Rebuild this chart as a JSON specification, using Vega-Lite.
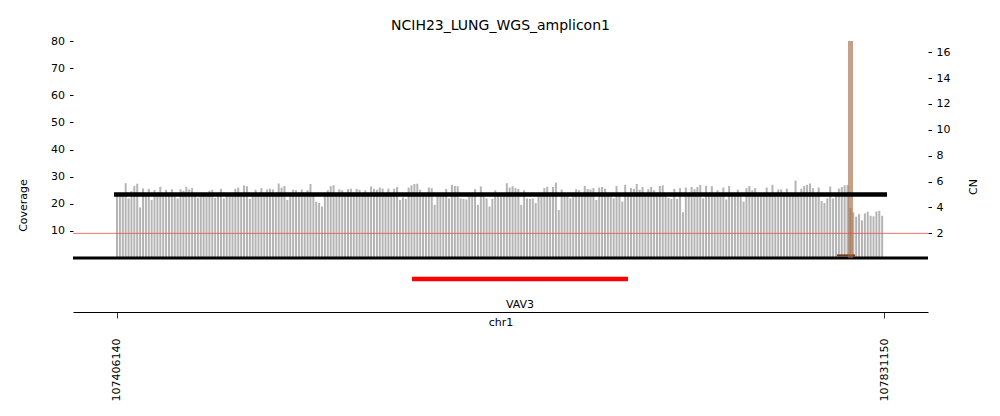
{
  "$schema": "https://vega.github.io/schema/vega-lite/v6.json",
  "width": 855,
  "height": 271,
  "autosize": "none",
  "padding": {"left": 73, "top": 41, "right": 72, "bottom": 104},
  "title": {"text": "NCIH23_LUNG_WGS_amplicon1", "font": "DejaVu Sans", "fontSize": 14, "fontWeight": "normal", "color": "black", "anchor": "middle", "frame": "group", "baseline": "alphabetic", "offset": -9},
  "config": {
    "view": {"stroke": null},
    "axis": {"grid": false, "labelFont": "DejaVu Sans", "labelFontSize": 11, "labelColor": "black", "titleFont": "DejaVu Sans", "titleFontSize": 11, "titleFontWeight": "normal", "titleColor": "black", "tickColor": "black", "domainColor": "black", "labelOverlap": false}
  },
  "datasets": {
    "cov": [
      {"pos":107406140,"cov":23.2},{"pos":107407740,"cov":23.0},{"pos":107409340,"cov":23.4},{"pos":107410940,"cov":27.6},{"pos":107412540,"cov":22.0},
      {"pos":107414140,"cov":24.7},{"pos":107415740,"cov":26.6},{"pos":107417340,"cov":27.4},{"pos":107418940,"cov":18.7},{"pos":107420540,"cov":25.7},
      {"pos":107422140,"cov":23.1},{"pos":107423740,"cov":25.5},{"pos":107425340,"cov":21.4},{"pos":107426940,"cov":25.1},{"pos":107428540,"cov":23.3},
      {"pos":107430140,"cov":26.3},{"pos":107431740,"cov":23.0},{"pos":107433340,"cov":25.2},{"pos":107434940,"cov":23.4},{"pos":107436540,"cov":25.4},
      {"pos":107438140,"cov":22.8},{"pos":107439740,"cov":22.0},{"pos":107441340,"cov":25.4},{"pos":107442940,"cov":24.8},{"pos":107444540,"cov":26.2},
      {"pos":107446140,"cov":25.3},{"pos":107447740,"cov":25.8},{"pos":107449340,"cov":23.1},{"pos":107450940,"cov":22.3},{"pos":107452540,"cov":23.2},
      {"pos":107454140,"cov":23.5},{"pos":107455740,"cov":23.6},{"pos":107457340,"cov":24.8},{"pos":107458940,"cov":25.2},{"pos":107460540,"cov":22.2},
      {"pos":107462140,"cov":23.0},{"pos":107463740,"cov":25.5},{"pos":107465340,"cov":22.0},{"pos":107466940,"cov":23.3},{"pos":107468540,"cov":22.8},
      {"pos":107470140,"cov":23.1},{"pos":107471740,"cov":25.5},{"pos":107473340,"cov":26.0},{"pos":107474940,"cov":23.2},{"pos":107476540,"cov":26.8},
      {"pos":107478140,"cov":26.5},{"pos":107479740,"cov":21.8},{"pos":107481340,"cov":23.4},{"pos":107482940,"cov":25.2},{"pos":107484540,"cov":23.0},
      {"pos":107486140,"cov":25.8},{"pos":107487740,"cov":23.2},{"pos":107489340,"cov":25.3},{"pos":107490940,"cov":25.6},{"pos":107492540,"cov":25.3},
      {"pos":107494140,"cov":23.1},{"pos":107495740,"cov":27.5},{"pos":107497340,"cov":26.0},{"pos":107498940,"cov":26.6},{"pos":107500540,"cov":21.4},
      {"pos":107502140,"cov":23.3},{"pos":107503740,"cov":25.2},{"pos":107505340,"cov":25.0},{"pos":107506940,"cov":23.1},{"pos":107508540,"cov":25.3},
      {"pos":107510140,"cov":23.4},{"pos":107511740,"cov":25.0},{"pos":107513340,"cov":27.3},{"pos":107514940,"cov":23.2},{"pos":107516540,"cov":20.8},
      {"pos":107518140,"cov":20.3},{"pos":107519740,"cov":19.0},{"pos":107521340,"cov":23.3},{"pos":107522940,"cov":25.0},{"pos":107524540,"cov":26.5},
      {"pos":107526140,"cov":26.8},{"pos":107527740,"cov":23.2},{"pos":107529340,"cov":25.3},{"pos":107530940,"cov":25.0},{"pos":107532540,"cov":23.4},
      {"pos":107534140,"cov":25.4},{"pos":107535740,"cov":25.6},{"pos":107537340,"cov":23.1},{"pos":107538940,"cov":25.5},{"pos":107540540,"cov":25.2},
      {"pos":107542140,"cov":23.3},{"pos":107543740,"cov":25.0},{"pos":107545340,"cov":23.2},{"pos":107546940,"cov":26.4},{"pos":107548540,"cov":25.5},
      {"pos":107550140,"cov":25.2},{"pos":107551740,"cov":26.0},{"pos":107553340,"cov":25.6},{"pos":107554940,"cov":23.3},{"pos":107556540,"cov":25.6},
      {"pos":107558140,"cov":23.0},{"pos":107559740,"cov":25.6},{"pos":107561340,"cov":26.2},{"pos":107562940,"cov":21.4},{"pos":107564540,"cov":22.4},
      {"pos":107566140,"cov":21.8},{"pos":107567740,"cov":26.0},{"pos":107569340,"cov":26.8},{"pos":107570940,"cov":27.3},{"pos":107572540,"cov":27.4},
      {"pos":107574140,"cov":25.2},{"pos":107575740,"cov":23.3},{"pos":107577340,"cov":23.1},{"pos":107578940,"cov":26.0},{"pos":107580540,"cov":25.8},
      {"pos":107582140,"cov":19.6},{"pos":107583740,"cov":23.4},{"pos":107585340,"cov":23.2},{"pos":107586940,"cov":23.0},{"pos":107588540,"cov":25.5},
      {"pos":107590140,"cov":22.0},{"pos":107591740,"cov":27.0},{"pos":107593340,"cov":26.6},{"pos":107594940,"cov":26.5},{"pos":107596540,"cov":22.0},
      {"pos":107598140,"cov":21.8},{"pos":107599740,"cov":21.6},{"pos":107601340,"cov":23.4},{"pos":107602940,"cov":23.2},{"pos":107604540,"cov":25.4},
      {"pos":107606140,"cov":19.6},{"pos":107607740,"cov":26.4},{"pos":107609340,"cov":23.1},{"pos":107610940,"cov":22.0},{"pos":107612540,"cov":19.0},
      {"pos":107614140,"cov":21.8},{"pos":107615740,"cov":25.0},{"pos":107617340,"cov":23.3},{"pos":107618940,"cov":23.1},{"pos":107620540,"cov":23.4},
      {"pos":107622140,"cov":27.6},{"pos":107623740,"cov":26.0},{"pos":107625340,"cov":26.5},{"pos":107626940,"cov":25.8},{"pos":107628540,"cov":25.5},
      {"pos":107630140,"cov":19.6},{"pos":107631740,"cov":25.0},{"pos":107633340,"cov":22.0},{"pos":107634940,"cov":21.8},{"pos":107636540,"cov":22.0},
      {"pos":107638140,"cov":20.3},{"pos":107639740,"cov":23.3},{"pos":107641340,"cov":23.1},{"pos":107642940,"cov":25.8},{"pos":107644540,"cov":26.3},
      {"pos":107646140,"cov":23.2},{"pos":107647740,"cov":26.2},{"pos":107649340,"cov":27.8},{"pos":107650940,"cov":17.7},{"pos":107652540,"cov":25.3},
      {"pos":107654140,"cov":23.4},{"pos":107655740,"cov":23.0},{"pos":107657340,"cov":22.0},{"pos":107658940,"cov":23.3},{"pos":107660540,"cov":25.4},
      {"pos":107662140,"cov":25.0},{"pos":107663740,"cov":23.2},{"pos":107665340,"cov":26.6},{"pos":107666940,"cov":25.5},{"pos":107668540,"cov":25.3},
      {"pos":107670140,"cov":25.8},{"pos":107671740,"cov":21.4},{"pos":107673340,"cov":26.0},{"pos":107674940,"cov":26.2},{"pos":107676540,"cov":25.6},
      {"pos":107678140,"cov":23.3},{"pos":107679740,"cov":23.1},{"pos":107681340,"cov":22.0},{"pos":107682940,"cov":26.6},{"pos":107684540,"cov":23.4},
      {"pos":107686140,"cov":20.8},{"pos":107687740,"cov":27.0},{"pos":107689340,"cov":23.2},{"pos":107690940,"cov":25.8},{"pos":107692540,"cov":25.5},
      {"pos":107694140,"cov":27.3},{"pos":107695740,"cov":25.2},{"pos":107697340,"cov":26.2},{"pos":107698940,"cov":23.3},{"pos":107700540,"cov":25.4},
      {"pos":107702140,"cov":26.2},{"pos":107703740,"cov":25.0},{"pos":107705340,"cov":23.1},{"pos":107706940,"cov":26.6},{"pos":107708540,"cov":26.8},
      {"pos":107710140,"cov":23.4},{"pos":107711740,"cov":22.2},{"pos":107713340,"cov":21.8},{"pos":107714940,"cov":25.5},{"pos":107716540,"cov":21.8},
      {"pos":107718140,"cov":25.8},{"pos":107719740,"cov":16.9},{"pos":107721340,"cov":26.0},{"pos":107722940,"cov":23.2},{"pos":107724540,"cov":26.2},
      {"pos":107726140,"cov":25.4},{"pos":107727740,"cov":26.2},{"pos":107729340,"cov":27.0},{"pos":107730940,"cov":22.0},{"pos":107732540,"cov":26.6},
      {"pos":107734140,"cov":23.3},{"pos":107735740,"cov":26.5},{"pos":107737340,"cov":23.1},{"pos":107738940,"cov":25.0},{"pos":107740540,"cov":23.4},
      {"pos":107742140,"cov":26.0},{"pos":107743740,"cov":21.6},{"pos":107745340,"cov":26.6},{"pos":107746940,"cov":23.2},{"pos":107748540,"cov":23.0},
      {"pos":107750140,"cov":25.2},{"pos":107751740,"cov":23.3},{"pos":107753340,"cov":20.8},{"pos":107754940,"cov":25.8},{"pos":107756540,"cov":26.6},
      {"pos":107758140,"cov":25.0},{"pos":107759740,"cov":25.8},{"pos":107761340,"cov":23.2},{"pos":107762940,"cov":23.4},{"pos":107764540,"cov":23.1},
      {"pos":107766140,"cov":26.0},{"pos":107767740,"cov":23.3},{"pos":107769340,"cov":27.0},{"pos":107770940,"cov":23.2},{"pos":107772540,"cov":25.3},
      {"pos":107774140,"cov":25.3},{"pos":107775740,"cov":23.4},{"pos":107777340,"cov":25.6},{"pos":107778940,"cov":23.1},{"pos":107780540,"cov":23.3},
      {"pos":107782140,"cov":28.6},{"pos":107783740,"cov":23.2},{"pos":107785340,"cov":25.6},{"pos":107786940,"cov":26.6},{"pos":107788540,"cov":27.0},
      {"pos":107790140,"cov":27.5},{"pos":107791740,"cov":25.8},{"pos":107793340,"cov":23.4},{"pos":107794940,"cov":26.0},{"pos":107796540,"cov":21.0},
      {"pos":107798140,"cov":20.3},{"pos":107799740,"cov":22.0},{"pos":107801340,"cov":26.4},{"pos":107802940,"cov":22.0},{"pos":107804540,"cov":23.2},
      {"pos":107806140,"cov":25.6},{"pos":107807740,"cov":26.2},{"pos":107809340,"cov":26.8},{"pos":107810940,"cov":27.0},{"pos":107812540,"cov":18.5},
      {"pos":107814140,"cov":16.9},{"pos":107815740,"cov":15.3},{"pos":107817340,"cov":16.2},{"pos":107818940,"cov":13.9},{"pos":107820540,"cov":16.5},
      {"pos":107822140,"cov":17.1},{"pos":107823740,"cov":15.6},{"pos":107825340,"cov":15.4},{"pos":107826940,"cov":17.2},{"pos":107828540,"cov":17.4},
      {"pos":107830140,"cov":15.6}
    ],
    "cnseg": [{"start": 107404500, "end": 107832800, "cn": 5.0}],
    "genes": [{"gene": "VAV3", "start": 107569600, "end": 107689300}],
    "breakpoints": [{"pos": 107812600}],
    "baseseg": [{"start": 107805100, "end": 107815100}]
  },
  "layer": [
    {
      "layer": [
        {
          "data": {"name": "cov"},
          "mark": {"type": "bar", "size": 2, "color": "#b4b4b4"},
          "encoding": {
            "x": {"field": "pos", "type": "quantitative", "title": "chr1",
                  "scale": {"domain": [107381760, 107855530], "nice": false, "zero": false, "padding": 0},
                  "axis": {"values": [107406140, 107831150], "tickCount": 50, "format": "d", "labelAngle": 270, "tickSize": 6, "tickWidth": 0.8, "labelPadding": 20, "domainWidth": 1.2, "title": "chr1", "titleY": 10, "titleBaseline": "middle", "labelOverlap": false}},
            "y": {"field": "cov", "type": "quantitative",
                  "scale": {"domain": [-19.86, 80], "nice": false, "padding": 0},
                  "axis": {"values": [10, 20, 30, 40, 50, 60, 70, 80], "tickCount": 50, "format": "d", "domain": false, "tickSize": 3.5, "labelPadding": 5, "labelOverlap": false, "labelFlush": false, "title": "Coverage", "titleAngle": 270, "titleX": -50, "titleY": 164, "titleAlign": "center", "titleBaseline": "middle"}}
          }
        },
        {
          "data": {"values": [{}]},
          "mark": {"type": "rule", "color": "black", "strokeWidth": 3},
          "encoding": {"y": {"datum": 0}}
        },
        {
          "data": {"name": "baseseg"},
          "mark": {"type": "rule", "color": "#7a3a12", "strokeWidth": 2},
          "encoding": {
            "x": {"field": "start", "type": "quantitative", "title": "chr1"},
            "x2": {"field": "end"},
            "y": {"datum": 1}
          }
        },
        {
          "data": {"name": "genes"},
          "mark": {"type": "rule", "color": "#ff0000", "strokeWidth": 4.5, "strokeCap": "butt"},
          "encoding": {
            "x": {"field": "start", "type": "quantitative", "title": "chr1"},
            "x2": {"field": "end"},
            "y": {"datum": -7.7}
          }
        },
        {
          "data": {"name": "genes"},
          "transform": [{"calculate": "(datum.start + datum.end) / 2", "as": "mid"}],
          "mark": {"type": "text", "font": "DejaVu Sans", "fontSize": 11, "color": "black", "align": "center", "baseline": "middle"},
          "encoding": {
            "x": {"field": "mid", "type": "quantitative", "title": "chr1"},
            "y": {"datum": -17.3},
            "text": {"field": "gene"}
          }
        },
        {
          "data": {"name": "breakpoints"},
          "mark": {"type": "rule", "color": "#9d6139", "opacity": 0.6, "strokeWidth": 5, "strokeCap": "butt"},
          "encoding": {
            "x": {"field": "pos", "type": "quantitative", "title": "chr1"},
            "y": {"datum": 0},
            "y2": {"datum": 80}
          }
        }
      ]
    },
    {
      "layer": [
        {
          "data": {"name": "cnseg"},
          "mark": {"type": "rule", "color": "black", "strokeWidth": 4.5, "strokeCap": "butt"},
          "encoding": {
            "x": {"field": "start", "type": "quantitative", "title": "chr1"},
            "x2": {"field": "end"},
            "y": {"field": "cn", "type": "quantitative",
                  "scale": {"domain": [-4.08, 16.87], "nice": false},
                  "axis": {"orient": "right", "values": [2, 4, 6, 8, 10, 12, 14, 16], "tickCount": 50, "format": "d", "domain": false, "tickSize": 3.5, "labelPadding": 4.5, "labelOverlap": false, "labelFlush": false, "title": "CN", "titleAngle": 270, "titleX": 45, "titleY": 145.5, "titleAlign": "center", "titleBaseline": "middle"}}
          }
        },
        {
          "data": {"values": [{}]},
          "mark": {"type": "rule", "color": "#f04848", "opacity": 0.8, "strokeWidth": 1},
          "encoding": {"y": {"datum": 2}}
        }
      ]
    }
  ],
  "resolve": {"scale": {"y": "independent"}, "axis": {"y": "independent"}}
}
